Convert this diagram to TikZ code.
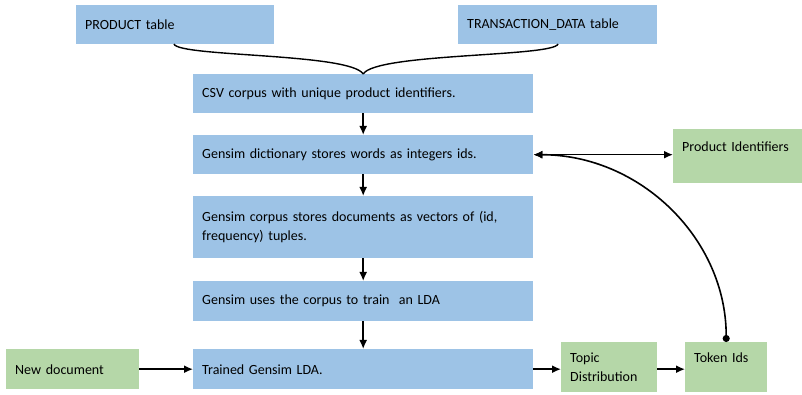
\documentclass[tikz,border=0pt]{standalone}
\usepackage{fontspec}
\setmainfont{Carlito}
\usetikzlibrary{arrows.meta}
\definecolor{boxblue}{RGB}{157,195,230}
\definecolor{boxgreen}{RGB}{181,215,168}
\begin{document}
\begin{tikzpicture}[x=1pt,y=1pt,
  base/.style={anchor=north west, inner xsep=9pt, inner ysep=0pt, align=left,
    font=\fontsize{14}{18.5}\selectfont, text=black},
  bbox/.style={base, fill=boxblue},
  gbox/.style={base, fill=boxgreen},
  tipend/.tip={Latex[length=9pt,width=8pt]},
  conn/.style={line width=1.6pt, -tipend},
  brace/.style={line width=1.4pt}
]
\useasboundingbox (0,0) rectangle (802,395);
\node[bbox, text width=180pt, minimum height=39pt] (prod) at (76,390) {PRODUCT table};
\node[bbox, text width=181pt, minimum height=39pt] (trans) at (458,390) {TRANSACTION\_DATA table};
\node[bbox, text width=322pt, minimum height=39pt] (csv) at (193,321) {CSV corpus with unique product identifiers.};
\node[bbox, text width=322pt, minimum height=39pt] (dict) at (193,260) {Gensim dictionary stores words as integers ids.};
\node[bbox, text width=322pt, minimum height=62pt] (corp) at (193,199) {Gensim corpus stores documents as vectors of (id,\\frequency) tuples.};
\node[bbox, text width=322pt, minimum height=40pt] (uses) at (193,114) {Gensim uses the corpus to train\ \ an LDA};
\node[bbox, text width=322pt, minimum height=40pt] (trained) at (193,46) {Trained Gensim LDA.};
\node[gbox, text width=115pt, minimum height=40pt] (newdoc) at (6,46) {New document};
\node[gbox, text width=78pt, minimum height=50pt] (topic) at (561,53) {Topic\\Distribution};
\node[gbox, text width=64pt, minimum height=50pt] (token) at (685,53) {Token Ids\\\mbox{}};
\node[gbox, text width=111pt, minimum height=54pt] (pid) at (673,266) {Product Identifiers\\\mbox{}};

\coordinate (tip) at (csv.north);
\draw[brace] (174,351) .. controls (178,338) and (350,342) .. (tip);
\draw[brace] (tip) .. controls (376,342) and (554,338) .. (558,351);

\draw[conn] (csv) -- (dict);
\draw[conn] (dict) -- (corp);
\draw[conn] (corp) -- (uses);
\draw[conn] (uses) -- (trained);
\draw[conn] (newdoc) -- (trained);
\draw[conn] (trained.east) -- (trained.east -| topic.west);
\draw[conn] (trained.east -| topic.east) -- (trained.east -| token.west);
\draw[line width=1.6pt, tipend-tipend] (dict.east) -- (dict.east -| pid.west);
\draw[line width=1.6pt, {Circle[length=7pt]}-tipend] (token.north) .. controls ++(0,103) and ++(107,0) .. (dict.east);
\end{tikzpicture}
\end{document}
